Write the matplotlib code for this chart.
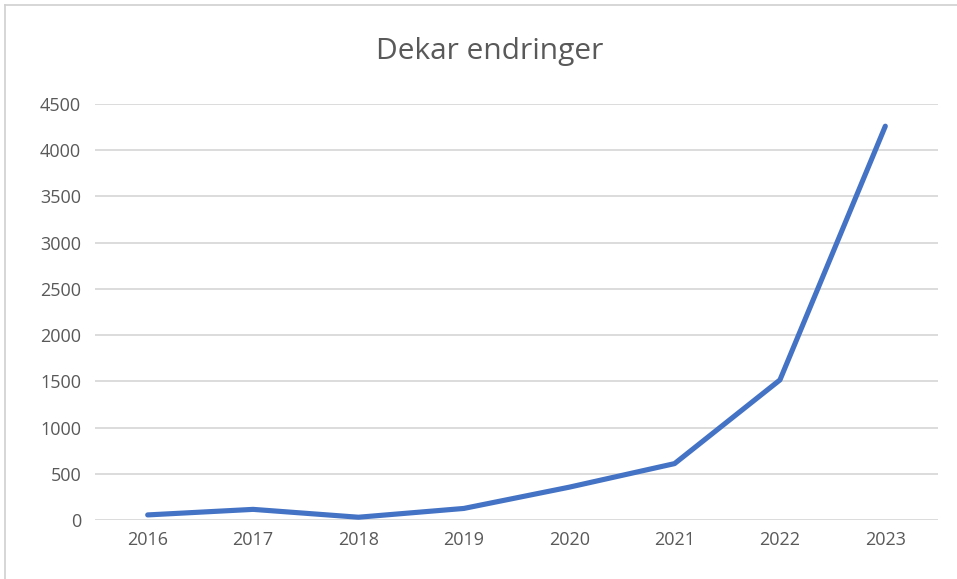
import matplotlib.pyplot as plt
from matplotlib.lines import Line2D

years = ['2016', '2017', '2018', '2019', '2020', '2021', '2022', '2023']
dekar = [55, 115, 30, 125, 355, 610, 1515, 4260]
yticks = [0, 500, 1000, 1500, 2000, 2500, 3000, 3500, 4000, 4500]

plt.rcParams['font.family'] = ['Open Sans', 'DejaVu Sans']

fig = plt.figure(figsize=(9.57, 5.79), dpi=100)
ax = fig.add_axes([95 / 957, 1 - 520 / 579, (938 - 95) / 957, (520 - 104) / 579])

x = list(range(len(years)))
ax.plot(x, dekar, color='#4472C4', linewidth=3.7, solid_capstyle='round', solid_joinstyle='round', zorder=3)

ax.set_xlim(-0.5, len(years) - 0.5)
ax.set_ylim(0, 4500)
ax.set_xticks(x)
ax.set_xticklabels(years)
ax.set_yticks(yticks)
ax.set_yticklabels([str(v) for v in yticks])
ax.grid(axis='y', color='#D9D9D9', linewidth=1.3)
ax.set_axisbelow(True)
for s in ax.spines.values():
    s.set_visible(False)
ax.tick_params(length=0, labelsize=13, colors='#595959', pad=8)
ax.tick_params(axis='y', pad=10)

fig.text(0.512, 1 - 51 / 579, 'Dekar endringer', ha='center', va='center', fontsize=21.5, color='#595959')

# chart border (left and top visible)
fig.add_artist(Line2D([4.5 / 957, 4.5 / 957], [0, 1 - 5 / 579], color='#D0D0D0', linewidth=1.2))
fig.add_artist(Line2D([4.5 / 957, 1], [1 - 5 / 579, 1 - 5 / 579], color='#D0D0D0', linewidth=1.2))

fig.savefig('out.png', dpi=100)
